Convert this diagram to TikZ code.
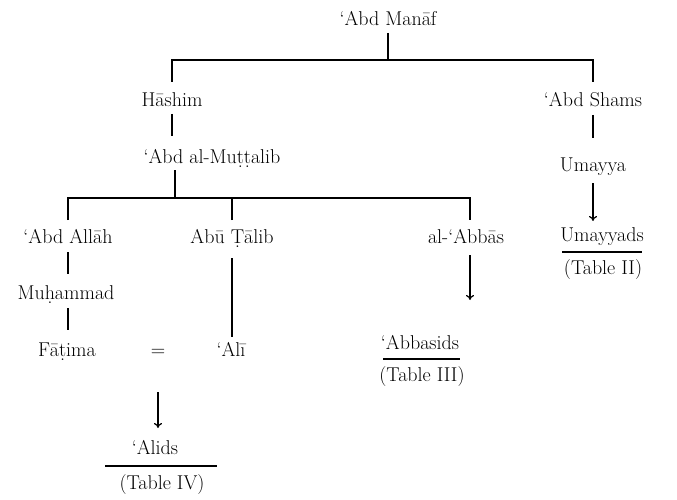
\documentclass[tikz,border=0pt]{standalone}
\usetikzlibrary{arrows.meta,calc}
\begin{document}
\begin{tikzpicture}[x=1pt,y=-1pt,
  person/.style={anchor=base,inner sep=0pt,font=\fontsize{20}{24}\selectfont},
  link/.style={line width=1.2pt},
  descent/.style={link,-{To[length=5pt,width=8pt]}}]
\useasboundingbox (0,0) rectangle (677,500);

% names
\node[person] (am)       at (388,26)  {‘Abd Manāf};
\node[person] (hashim)   at (172,107) {Hāshim};
\node[person] (shams)    at (593,107) {‘Abd Shams};
\node[person] (mut)      at (212,163) {‘Abd al-Muṭṭalib};
\node[person] (umayya)   at (593,171) {Umayya};
\node[person] (abdallah) at (68,243)  {‘Abd Allāh};
\node[person] (talib)    at (232,243) {Abū Ṭālib};
\node[person] (abbas)    at (466,243) {al-‘Abbās};
\node[person] (umayyads) at (602,241) {Umayyads};
\node[person] (tab2)     at (603,274) {(Table II)};
\node[person] (muhammad) at (66,299)  {Muḥammad};
\node[person] (abbasids) at (420,349) {‘Abbasids};
\node[person] (tab3)     at (422,381) {(Table III)};
\node[person] (fatima)   at (67,356)  {Fāṭima};
\node[person] (eq)       at (158,356) {=};
\node[person] (ali)      at (231,356) {‘Alī};
\node[person] (alids)    at (155,454) {‘Alids};
\node[person] (tab4)     at (162,489) {(Table IV)};

% junctions of the sibling bars
\coordinate (j1) at (388,60);
\coordinate (j2) at (175,198);
\coordinate (j3) at (470,198);

% sons of 'Abd Manaf
\draw[link] ($(am.base)+(0,7)$) -- (j1);
\draw[link] ($(hashim.base)+(0,-25)$) |- (j1) -| ($(shams.base)+(0,-25)$);
\draw[link] ($(hashim.base)+(0,7)$) -- ($(hashim.base |- mut.base)+(0,-27)$);
\draw[link] ($(shams.base)+(0,8)$) -- ($(umayya.base)+(0,-33)$);

% sons of 'Abd al-Muttalib
\draw[link] ($(mut.base -| j2)+(0,7)$) -- (j2);
\draw[link] ($(abdallah.base)+(0,-23)$) |- (j3) -- ($(j3 |- abbas.base)+(0,-23)$);
\draw[link] ($(talib.base)+(0,-23)$) -- (talib.base |- j2);

% line of the Prophet
\draw[link] ($(abdallah.base)+(0,9)$) -- ($(muhammad.base -| abdallah.base)+(0,-25)$);
\draw[link] ($(muhammad.base -| abdallah.base)+(0,9)$) -- ($(fatima.base -| abdallah.base)+(0,-26)$);
\draw[link] ($(talib.base)+(0,15)$) -- ($(ali.base -| talib.base)+(0,-19)$);

% dynasties
\draw[descent] ($(umayya.base)+(0,12)$) -- ($(umayyads.base -| umayya.base)+(0,-20)$);
\draw[descent] ($(j3 |- abbas.base)+(0,12)$) -- ($(j3 |- abbasids.base)+(0,-49)$);
\draw[descent] ($(eq.base)+(0,36)$) -- ($(eq.base |- alids.base)+(0,-26)$);

% rules between dynasty and table reference
\draw[link] ($(umayyads.base)+(-40,11)$) -- ($(umayyads.base)+(40,11)$);
\draw[link] ($(abbasids.base)+(-37,10)$) -- ($(abbasids.base)+(40,10)$);
\draw[link] ($(tab4.base)+(-57,-23)$) -- ($(tab4.base)+(55,-23)$);
\end{tikzpicture}
\end{document}
